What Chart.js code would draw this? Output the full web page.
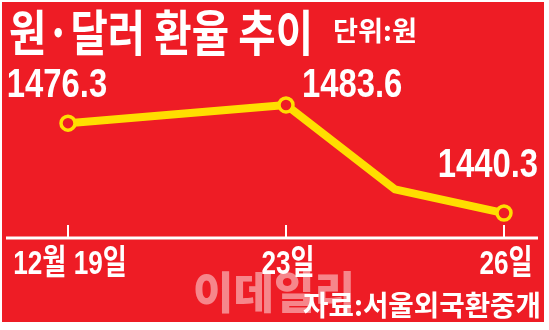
<!DOCTYPE html>
<html>
<head>
<meta charset="utf-8">
<script src="https://cdn.jsdelivr.net/npm/chart.js@4.4.1/dist/chart.umd.min.js"></script>
<style>
  html, body { margin: 0; padding: 0; background: #fff; }
  #wrap { position: absolute; left: 0; top: 0; width: 549px; height: 330px; }
</style>
</head>
<body>
<div id="wrap"><canvas id="fxChart" width="549" height="330"></canvas></div>
<script>
// 원·달러 환율 (서울외국환중개 종가)
const dayLabels = ['12월 19일', '', '23일', '', '26일'];
const krwPerUsd = [1476.3, null, 1483.6, 1449.8, 1440.3];
const markedDays = [true, false, true, false, true];

const titleText = '원·달러 환율 추이';
const unitText = '단위:원';
const sourceText = '자료:서울외국환중개';
const watermarkText = '이데일리';

const RED = '#EE1C25';
const YELLOW = '#FFDE00';
const KR = "'Noto Sans CJK KR', sans-serif";
const NUM = "'Liberation Sans', 'Noto Sans CJK KR', sans-serif";

// squeeze text horizontally like the condensed type in the original
function drawScaled(c, text, x, y, font, sx, align) {
    c.save();
    c.font = font;
    const w = c.measureText(text).width;
    c.translate(x, y);
    c.scale(sx, 1);
    c.textAlign = 'left';
    c.textBaseline = 'alphabetic';
    let dx = 0;
    if (align === 'right') dx = -w;
    else if (align === 'center') dx = -w / 2;
    c.fillText(text, dx, 0);
    c.restore();
}

function drawFitted(c, text, x, y, font, width) {
    c.save();
    c.font = font;
    const w = c.measureText(text).width;
    c.restore();
    drawScaled(c, text, x, y, font, width / w, 'left');
}

const backdrop = {
    id: 'backdrop',
    beforeDraw(chart) {
        const c = chart.ctx;
        c.save();
        c.fillStyle = '#fff';
        c.fillRect(0, 0, chart.width, chart.height);
        c.fillStyle = RED;
        c.fillRect(2, 2, 542, 320);
        // watermark sits under everything else
        c.fillStyle = 'rgba(255,255,255,0.47)';
        drawFitted(c, watermarkText, 193, 309, '900 44px ' + KR, 162);
        c.restore();
    },
    beforeDatasetsDraw(chart) {
        const c = chart.ctx;
        const y = chart.chartArea.bottom;
        c.save();
        c.strokeStyle = '#fff';
        c.lineWidth = 3;
        c.beginPath();
        c.moveTo(6, y);
        c.lineTo(538, y);
        c.stroke();
        c.restore();
    }
};

// per-point label placement: [dx, dy, align]
const labelPlace = [[-11, -26, 'center'], null, [16, -8, 'left'], null, [34, -36, 'right']];

const texts = {
    id: 'texts',
    afterDraw(chart) {
        const c = chart.ctx;
        const xs = chart.scales.x;
        c.save();
        c.fillStyle = '#fff';
        drawFitted(c, titleText, 9, 51, 'bold 49px ' + KR, 304);
        drawFitted(c, unitText, 333, 41, 'bold 27px ' + KR, 84);
        drawFitted(c, sourceText, 303, 316, 'bold 28px ' + KR, 238);

        // category labels under the axis, condensed
        dayLabels.forEach((lab, i) => {
            if (!lab) return;
            drawScaled(c, lab, xs.getPixelForTick(i) + 2, 274, 'bold 34px ' + NUM, 0.77, 'center');
        });

        const meta = chart.getDatasetMeta(0);
        meta.data.forEach((pt, i) => {
            const place = labelPlace[i];
            if (!place || krwPerUsd[i] == null) return;
            drawScaled(c, krwPerUsd[i].toFixed(1), pt.x + place[0], pt.y + place[1],
                'bold 40px ' + NUM, 0.82, place[2]);
        });
        c.restore();
    }
};

new Chart(document.getElementById('fxChart'), {
    type: 'line',
    data: {
        labels: dayLabels,
        datasets: [{
            data: krwPerUsd,
            spanGaps: true,
            tension: 0,
            borderColor: YELLOW,
            borderWidth: 8,
            borderJoinStyle: 'round',
            pointRadius: markedDays.map(m => m ? 7 : 0),
            pointBackgroundColor: RED,
            pointBorderColor: YELLOW,
            pointBorderWidth: 3.5
        }]
    },
    options: {
        responsive: false,
        animation: false,
        layout: { padding: { left: 68, right: 45, top: 60, bottom: 0 } },
        plugins: { legend: { display: false }, tooltip: { enabled: false } },
        scales: {
            x: {
                border: { display: false },
                grid: {
                    drawOnChartArea: false,
                    drawTicks: true,
                    tickLength: -13,
                    lineWidth: 2,
                    color: ctx => markedDays[ctx.index] ? '#fff' : 'rgba(0,0,0,0)'
                },
                ticks: { display: false, autoSkip: false, maxRotation: 0 },
                afterFit: s => {
                    s.height = 92;
                    s.paddingLeft = 0;
                    s.paddingRight = 0;
                }
            },
            y: { display: false, min: 1430.3, max: 1501.6 }
        }
    },
    plugins: [backdrop, texts]
});
</script>
</body>
</html>
